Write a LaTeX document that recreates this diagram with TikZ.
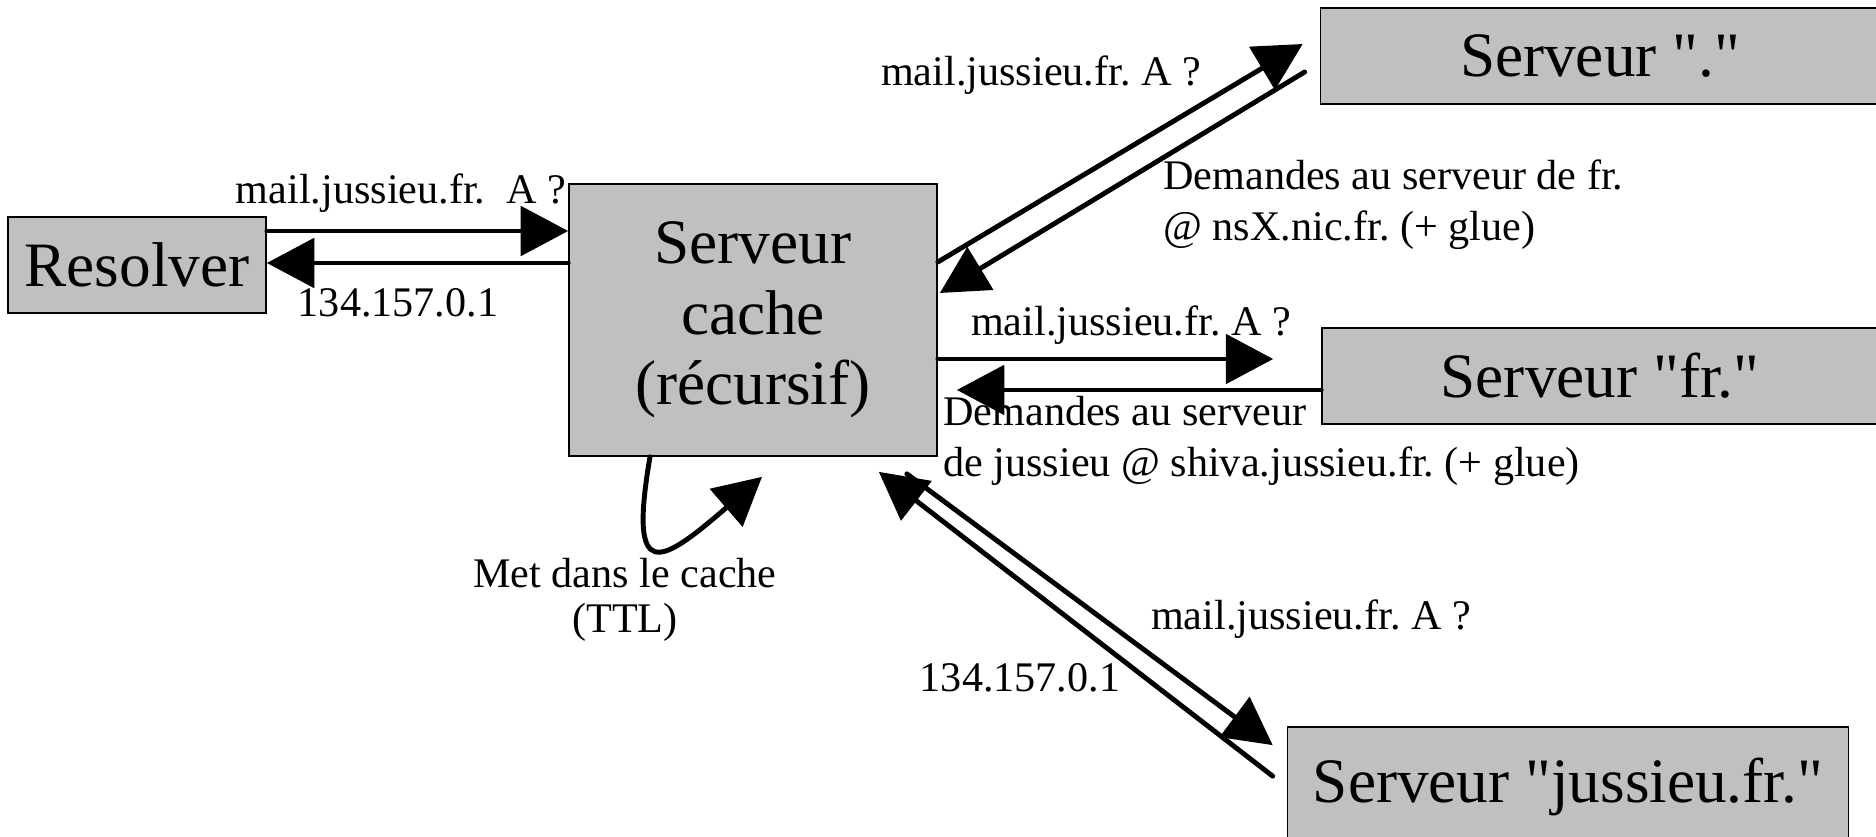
\documentclass[tikz,border=0pt]{standalone}
\usepackage{fontspec}
\setmainfont{Liberation Serif}
\usetikzlibrary{arrows.meta,calc}
\definecolor{srvgray}{RGB}{192,192,192}
\newcommand{\qq}{\textquotedbl}

\begin{document}
\frenchspacing
\begin{tikzpicture}[x=0.02cm, y=-0.02cm,
  srvbox/.style={draw=black, line width=1pt, fill=srvgray, inner sep=0pt,
    font=\fontsize{36}{40}\selectfont},
  msg/.style={line width=2.8pt, line cap=round,
    -{Triangle[length=27pt,width=28pt]}},
  lbl/.style={inner sep=0pt, font=\fontsize{24}{29}\selectfont}]
  \useasboundingbox (0,0) rectangle (1876,837);

  % Servers
  \node[srvbox, minimum width=5.16cm, minimum height=1.92cm] (res) at (137,265) {Resolver};
  \node[srvbox, minimum width=7.36cm, minimum height=5.44cm, align=center] (cache) at (753,320)
    {Serveur\\cache\\(récursif)};
  \node[srvbox, minimum width=11.18cm, minimum height=1.92cm] (root) at (1600,56) {Serveur \qq.\qq};
  \node[srvbox, minimum width=11.12cm, minimum height=1.92cm] (fr) at (1600,376) {Serveur \qq fr.\qq};
  \node[srvbox, minimum width=11.22cm, minimum height=2.4cm] (jus) at (1568,787) {Serveur \qq jussieu.fr.\qq};

  % Resolver <-> cache
  \coordinate (q1) at ($(res.east)+(0,-34)$);
  \coordinate (r1) at ($(res.east)+(0,-2)$);
  \draw[msg] (q1) -- (q1 -| cache.west);
  \draw[msg] (r1 -| cache.west) -- (r1);
  \node[lbl] (q1txt) at (401,193) {mail.jussieu.fr.~~A ?};
  \node[lbl] (r1txt) at (398,303) {134.157.0.1};

  % cache <-> root
  \draw[msg] ($(cache.east)+(0,-58)$) -- ($(root.west)+(-17,-12)$);
  \draw[msg] ($(root.west)+(-15,16)$) -- ($(cache.east)+(2,-27)$);
  \node[lbl] (q2txt) at (1041,75) {mail.jussieu.fr. A ?};
  \node[lbl, align=left, anchor=west] (r2txt) at (1163,205)
    {Demandes au serveur de fr.\\@ nsX.nic.fr. (+ glue)};

  % cache <-> fr
  \coordinate (q3) at ($(cache.east)+(0,39)$);
  \coordinate (r3) at ($(fr.west)+(0,14)$);
  \node[lbl] (q3txt) at (1131,325) {mail.jussieu.fr. A ?};
  \node[lbl, align=left, anchor=west] (r3txt) at (943,441)
    {Demandes au serveur\\de jussieu @ shiva.jussieu.fr. (+ glue)};
  \draw[msg] (q3) -- ($(q3 -| fr.west)+(-48,0)$);
  \draw[msg] (r3) -- ($(r3 -| cache.east)+(19,0)$);

  % cache <-> jussieu
  \draw[msg] ($(cache.south east)+(-31,17)$) -- ($(jus.north west)+(-14,19)$);
  \draw[msg] ($(jus.north west)+(-14,50)$) -- ($(cache.south east)+(-59,15)$);
  \node[lbl] (q4txt) at (1311,619) {mail.jussieu.fr. A ?};
  \node[lbl] (r4txt) at (1020,678) {134.157.0.1};

  % Cache loop
  \draw[msg] ($(cache.south)+(-103,0)$) .. controls (628,585) and (660,565) .. ($(cache.south)+(9,20)$);
  \node[lbl, align=center, font=\fontsize{24}{26}\selectfont] (ttl) at (625,600)
    {Met dans le cache\\(TTL)};
\end{tikzpicture}
\end{document}
